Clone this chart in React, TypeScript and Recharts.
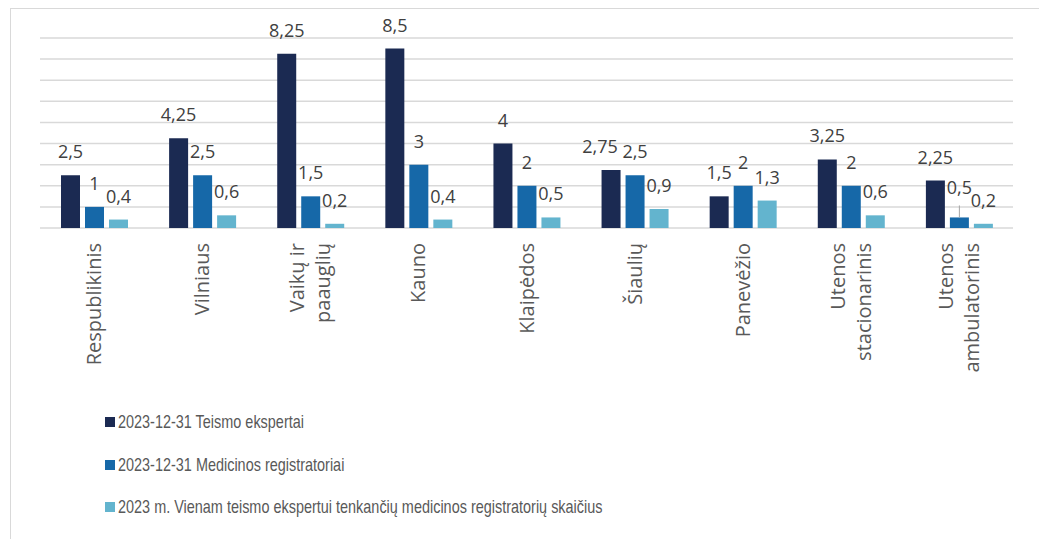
import { BarChart, Bar, XAxis, YAxis, CartesianGrid, LabelList } from "recharts";

const categories = [
  "Respublikinis",
  "Vilniaus",
  "Vaikų ir\npaauglių",
  "Kauno",
  "Klaipėdos",
  "Šiaulių",
  "Panevėžio",
  "Utenos\nstacionarinis",
  "Utenos\nambulatorinis",
];
const experts = [2.5, 4.25, 8.25, 8.5, 4, 2.75, 1.5, 3.25, 2.25];
const registrars = [1, 2.5, 1.5, 3, 2, 2.5, 2, 2, 0.5];
const perExpert = [0.4, 0.6, 0.2, 0.4, 0.5, 0.9, 1.3, 0.6, 0.2];
const yTicks = [0, 1, 2, 3, 4, 5, 6, 7, 8, 9];

const SERIES = [
  { key: "experts", name: "2023-12-31 Teismo ekspertai", color: "#1b2a52" },
  { key: "registrars", name: "2023-12-31 Medicinos registratoriai", color: "#1668a8" },
  {
    key: "perExpert",
    name: "2023 m. Vienam teismo ekspertui tenkančių medicinos registratorių skaičius",
    color: "#63b4ce",
  },
];

// labels Excel nudged by hand: [series, category index] -> dx / lift
const LABEL_NUDGE: Record<string, { dx: number; lift: number }> = {
  "experts-5": { dx: -11, lift: 0 },
  "registrars-8": { dx: 0, lift: 6 },
};

const data = categories.map((name, i) => ({
  name,
  experts: experts[i],
  registrars: registrars[i],
  perExpert: perExpert[i],
}));

const fmt = (v: any) => String(v).replace(".", ",");

function CategoryTick({ x, payload }: any) {
  const lines = String(payload.value).split("\n");
  const lh = 26;
  return (
    <g transform={`translate(${x},243) rotate(-90)`}>
      <text
        textAnchor="end"
        fill="#595959"
        fontSize={20}
        fontFamily="'Open Sans', sans-serif"
      >
        {lines.map((l, i) => (
          <tspan key={i} x={0} y={(i - (lines.length - 1) / 2) * lh} dy="0.35em">
            {l}
          </tspan>
        ))}
      </text>
    </g>
  );
}

// value axis has no visible labels in the original
const NoTick = () => <g />;

function makeLabel(key: string) {
  return (props: any) => {
    const { x, y, width, value, index } = props;
    const n = LABEL_NUDGE[`${key}-${index}`] || { dx: 0, lift: 0 };
    const cx = x + width / 2;
    const ty = y - 17 - n.lift;
    return (
      <g>
        {n.lift > 0 && (
          <line x1={cx} x2={cx} y1={y - 12} y2={y} stroke="#a6a6a6" strokeWidth={1} />
        )}
        <text
          x={cx + n.dx}
          y={ty}
          textAnchor="middle"
          fill="#404040"
          fontSize={18}
          fontFamily="'Open Sans', sans-serif"
        >
          {fmt(value)}
        </text>
      </g>
    );
  };
}

export default function App() {
  return (
    <div style={{ position: "absolute", left: 0, top: 0, width: 1039, height: 539, overflow: "hidden", background: "#fff" }}>
      <div
        style={{
          position: "absolute",
          left: 10,
          top: 8,
          width: 1060,
          height: 560,
          border: "1.5px solid #d9d9d9",
        }}
      />
      <div style={{ position: "absolute", left: 0, top: 0 }}>
        <BarChart
          width={1039}
          height={539}
          data={data}
          margin={{ top: 38, right: 26, left: 40, bottom: 131 }}
          barSize={19}
          barGap={5}
        >
          <CartesianGrid vertical={false} stroke="#d9d9d9" strokeWidth={1.5} />
          <XAxis
            dataKey="name"
            axisLine={false}
            tickLine={false}
            interval={0}
            height={180}
            tick={<CategoryTick />}
          />
          <YAxis
            width={0}
            domain={[0, 9]}
            ticks={yTicks}
            interval={0}
            tick={<NoTick />}
            axisLine={false}
            tickLine={false}
          />
          {SERIES.map((s) => (
            <Bar key={s.key} dataKey={s.key} name={s.name} fill={s.color} isAnimationActive={false}>
              <LabelList dataKey={s.key} content={makeLabel(s.key)} />
            </Bar>
          ))}
        </BarChart>
      </div>
      <div style={{ position: "absolute", left: 105, top: 401 }}>
        {SERIES.map((s) => (
          <div
            key={s.key}
            style={{
              display: "flex",
              alignItems: "center",
              height: 42.5,
              fontFamily: "'Liberation Sans', sans-serif",
              fontSize: 19,
              color: "#595959",
              whiteSpace: "nowrap",
            }}
          >
            <span style={{ width: 10, height: 10, background: s.color, marginRight: 3, display: "inline-block", flex: "none" }} />
            <span style={{ display: "inline-block", transform: "scaleX(0.76)", transformOrigin: "left center" }}>
              {s.name}
            </span>
          </div>
        ))}
      </div>
    </div>
  );
}
